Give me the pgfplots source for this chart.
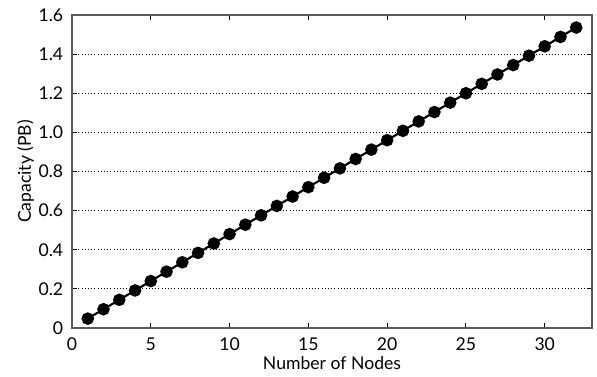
\documentclass[border=0pt]{standalone}
\usepackage{fontspec}
\setmainfont{Lato}
\usepackage{pgfplots}
\pgfplotsset{compat=1.18}
\begin{document}
\fontsize{13.2pt}{15pt}\selectfont
\begin{tikzpicture}
\path[use as bounding box] (-54pt,-36pt) rectangle (393.75pt,234.75pt+11.25pt);
\begin{axis}[
  at={(0,0)}, anchor=south west,
  scale only axis, width=390pt, height=234.75pt,
  xmin=0, xmax=33, ymin=0, ymax=1.6,
  xtick={0,5,...,30}, ytick={0,0.2,...,1.6},
  yticklabels={0,0.2,0.4,0.6,0.8,1.0,1.2,1.4,1.6},
  tick align=inside, major tick length=4pt,
  tick style={black, line width=0.8pt},
  axis line style={gray!70!black, line width=1pt},
  ymajorgrids, grid style={black, dotted, line width=0.7pt},
  /pgf/number format/assume math mode=true,
  ticklabel style={font=\fontsize{13.2pt}{15pt}\selectfont},
  label style={font=\fontsize{13.2pt}{15pt}\selectfont},
  xlabel={Number of Nodes}, ylabel={Capacity (PB)},
  xlabel style={at={(axis description cs:0.5,0)}, anchor=north, yshift=-17pt},
  ylabel style={at={(axis description cs:0,0.5)}, anchor=south, xshift=0pt, yshift=24pt},
  xticklabel style={yshift=-3pt},
  yticklabel style={xshift=-2pt},
]
\addplot[black, line width=1.6pt, mark=*, mark size=3.9pt] coordinates {
(1,0.048)(2,0.096)(3,0.144)(4,0.192)(5,0.240)(6,0.288)(7,0.336)(8,0.384)
(9,0.432)(10,0.480)(11,0.528)(12,0.576)(13,0.624)(14,0.672)(15,0.720)(16,0.768)
(17,0.816)(18,0.864)(19,0.912)(20,0.960)(21,1.008)(22,1.056)(23,1.104)(24,1.152)
(25,1.200)(26,1.248)(27,1.296)(28,1.344)(29,1.392)(30,1.440)(31,1.488)(32,1.536)
};
\end{axis}
\end{tikzpicture}
\end{document}
